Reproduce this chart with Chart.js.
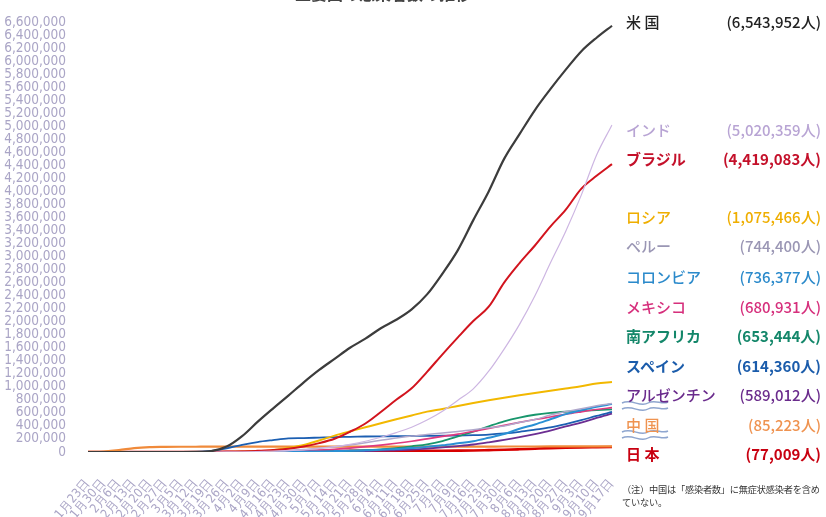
<!DOCTYPE html>
<html>
<head>
<meta charset="utf-8">
<script src="https://cdn.jsdelivr.net/npm/chart.js@4/dist/chart.umd.min.js"></script>
<style>
  body { margin: 0; background: #fff; }
  #wrap { position: relative; width: 826px; height: 517px; overflow: hidden; font-family: "Noto Sans CJK JP", sans-serif; }
  #chart { position: absolute; left: 0; top: 0; }
  .name, .val { position: absolute; font-size: 15px; line-height: 18px; white-space: nowrap; }
  .name { left: 626px; }
  .val { right: 5px; }
  #title { position: absolute; left: 295px; top: -20px; font-size: 16px; line-height: 26px; font-weight: 700; color: #444; }
  #note { position: absolute; left: 622px; top: 483px; font-size: 9.2px; line-height: 13px; color: #333; white-space: nowrap; letter-spacing: -0.2px; }
</style>
</head>
<body>
<div id="wrap">
  <canvas id="chart" width="826" height="517"></canvas>
  <div id="title">主要国の感染者数の推移</div>
  <div id="note">（注）中国は「感染者数」に無症状感染者を含め<br>ていない。</div>
</div>
<script>
// weekly dates
const dates = ['1月23日','1月30日','2月6日','2月13日','2月20日','2月27日','3月5日','3月12日','3月19日','3月26日',
  '4月2日','4月9日','4月16日','4月23日','4月30日','5月7日','5月14日','5月21日','5月28日','6月4日',
  '6月11日','6月18日','6月25日','7月2日','7月9日','7月16日','7月23日','7月30日','8月6日','8月13日',
  '8月20日','8月27日','9月3日','9月10日','9月17日'];

const usa = [1,5,12,15,15,60,220,1600,13000,83000,243000,462000,667000,866000,1070000,1260000,1430000,1600000,1740000,1900000,
  2030000,2190000,2420000,2740000,3100000,3560000,4000000,4500000,4880000,5250000,5570000,5870000,6150000,6360000,6543952];
const india = [0,1,3,3,3,3,30,73,195,730,2500,6700,13000,23000,34000,56000,82000,118000,165000,227000,
  298000,381000,491000,627000,794000,970000,1240000,1580000,1960000,2400000,2900000,3390000,3940000,4560000,5020359];
const brazil = [0,0,0,0,0,1,2,52,620,2900,7900,18000,30000,50000,86000,136000,203000,311000,438000,615000,
  802000,978000,1230000,1500000,1760000,2010000,2230000,2600000,2900000,3170000,3460000,3720000,4040000,4240000,4419083];
const russia = [0,0,2,2,2,2,4,28,199,840,3500,10000,28000,63000,106000,177000,252000,317000,379000,441000,
  502000,561000,620000,661000,707000,752000,795000,834000,871000,907000,942000,976000,1010000,1050000,1075466];
const peru = [0,0,0,0,0,0,0,0,230,580,1400,5900,12500,20900,36900,58500,80600,108800,141700,178900,
  214800,244400,268600,292000,316400,341500,372000,400700,455400,498500,567100,621900,663400,710100,744400];
const colombia = [0,0,0,0,0,0,0,9,128,470,1160,2470,3230,4560,6510,9460,13600,18300,25400,33500,
  46900,60200,80600,102000,133000,165000,218000,276000,357000,423000,502000,582000,641000,695000,736377];
const mexico = [0,0,0,0,0,1,5,16,118,475,1510,3180,6300,11600,19200,29600,40200,59600,81400,105700,
  133900,165500,202000,238500,275000,317600,362300,408400,456100,498400,537000,580000,617000,652000,680931];
const southAfrica = [0,0,0,0,0,0,1,24,150,927,1460,1930,2600,3950,5650,8230,12100,19100,27400,40800,
  58600,87700,118000,168000,238000,312000,394000,471000,529000,572000,600000,618000,631000,644000,653444];
const spain = [0,0,1,2,2,20,260,3150,17900,56200,110200,153200,182800,208400,213400,221400,229500,233000,237900,240700,
  242700,245300,247900,249600,252500,258400,268000,285000,310000,343000,378000,429000,488000,554000,614360];
const argentina = [0,0,0,0,0,0,1,31,97,502,1130,1800,2570,3290,4290,5610,7130,9930,14700,20200,
  26900,37500,52400,69900,90700,115000,148000,185000,228000,276000,329000,392000,451000,524000,589012];
const china = [571,7711,28018,59895,75077,78630,80565,80932,81250,81340,81620,81900,82340,82800,82860,82890,82930,82970,82990,83020,
  83060,83290,83460,83540,83600,83640,83730,84200,84520,84790,84920,85020,85100,85170,85223];
const japan = [1,11,25,33,94,210,331,620,924,1300,2490,5530,9230,12000,14090,15510,16120,16550,16680,17000,
  17300,17630,18090,18890,20720,23470,28300,33400,41300,50300,59000,66000,70800,74000,77009];

const names = ['米 国','インド','ブラジル','ロシア','ペルー','コロンビア','メキシコ','南アフリカ','スペイン','アルゼンチン','中 国','日 本'];
const valueLabels = ['(6,543,952人)','(5,020,359人)','(4,419,083人)','(1,075,466人)','(744,400人)','(736,377人)',
  '(680,931人)','(653,444人)','(614,360人)','(589,012人)','(85,223人)','(77,009人)'];
const series = [usa, india, brazil, russia, peru, colombia, mexico, southAfrica, spain, argentina, china, japan];

const lineColors = ['#3c3c3c','#cdb6e2','#d2141e','#f2b800','#b0a8cc','#2a90d4','#e03a80','#18966c','#1c5fb2','#6c2e92','#f08a3a','#d80000'];
const textColors = ['#222','#b8a4d4','#c4102a','#efae00','#9a96b4','#2b8acb','#d62f7c','#14876a','#1b5cab','#6a2b8c','#ef9350','#c80010'];
const widths = [2.2, 1.2, 2, 2, 1.5, 2, 1.7, 1.8, 1.8, 1.8, 2.2, 2.6];
const bold = [false,false,true,false,false,false,false,true,true,false,false,true];
const labelY = [13, 121, 150, 208, 237, 268, 298, 327, 357, 386, 416, 445];

const wrap = document.getElementById('wrap');
names.forEach((n, i) => {
  const a = document.createElement('div');
  a.className = 'name';
  a.textContent = n;
  a.style.top = labelY[i] + 'px';
  a.style.color = textColors[i];
  a.style.fontWeight = bold[i] ? 700 : 500;
  wrap.appendChild(a);
  const b = document.createElement('div');
  b.className = 'val';
  b.textContent = valueLabels[i];
  b.style.top = labelY[i] + 'px';
  b.style.color = textColors[i];
  b.style.fontWeight = bold[i] ? 700 : 500;
  wrap.appendChild(b);
});

// the "≈" break marks in the label column
const breakMarks = {
  id: 'breakMarks',
  afterDraw(chart) {
    const ctx = chart.ctx;
    ctx.save();
    ctx.strokeStyle = '#8fa6cf';
    ctx.lineWidth = 1.4;
    [403, 409, 432, 438].forEach(y => {
      ctx.beginPath();
      ctx.moveTo(622, y);
      ctx.bezierCurveTo(632, y - 5, 640, y + 5, 648, y);
      ctx.bezierCurveTo(655, y - 4, 662, y + 2, 668, y - 1);
      ctx.stroke();
    });
    ctx.restore();
  }
};

const datasets = series.map((d, i) => ({
  label: names[i],
  data: d,
  borderColor: lineColors[i],
  borderWidth: widths[i],
  pointRadius: 0,
  fill: false,
  cubicInterpolationMode: 'monotone'
}));

new Chart(document.getElementById('chart').getContext('2d'), {
  type: 'line',
  data: { labels: dates, datasets: datasets },
  plugins: [breakMarks],
  options: {
    responsive: false,
    animation: false,
    layout: { padding: { top: 14, right: 214, left: 0, bottom: 0 } },
    plugins: { legend: { display: false }, tooltip: { enabled: false } },
    scales: {
      x: {
        grid: { display: false },
        border: { display: false },
        ticks: {
          color: '#aaa5c6',
          font: { size: 12.5, family: 'DejaVu Sans Condensed, DejaVu Sans' },
          minRotation: 50,
          maxRotation: 50,
          autoSkip: false,
          padding: 16
        },
        afterFit: (scale) => { scale.height = 65; }
      },
      y: {
        min: 0,
        max: 6600000,
        grid: { display: false },
        border: { display: false },
        ticks: {
          stepSize: 200000,
          autoSkip: false,
          color: '#aaa5c6',
          padding: 14,
          font: { size: 13.5, family: 'DejaVu Sans Condensed, DejaVu Sans' },
          callback: (v) => v.toLocaleString('en-US')
        },
        afterFit: (scale) => { scale.width = 88; }
      }
    }
  }
});
</script>
</body>
</html>
